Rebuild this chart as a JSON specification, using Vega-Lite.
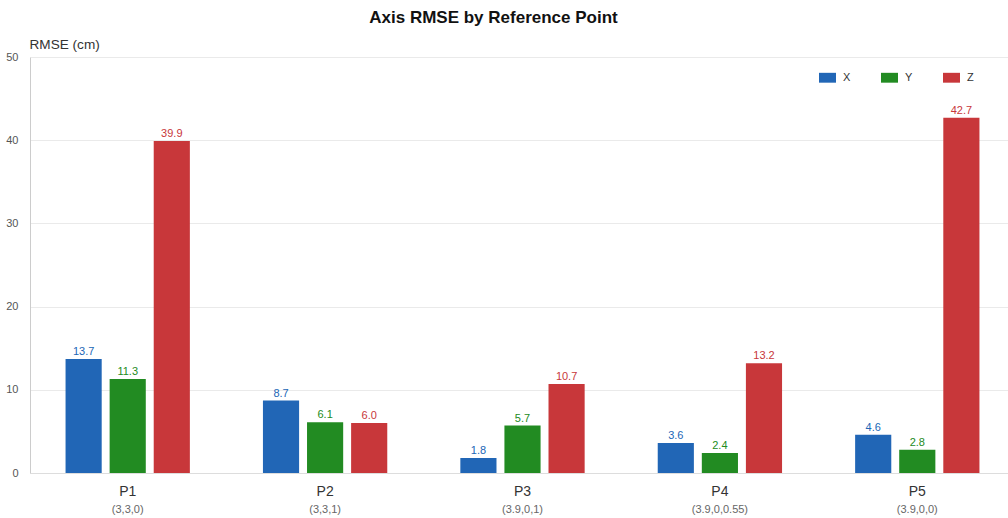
{
  "$schema": "https://vega.github.io/schema/vega-lite/v6.json",
  "width": 985,
  "height": 416,
  "autosize": "none",
  "padding": {"left": 30, "top": 57, "right": 0, "bottom": 45},
  "background": "white",
  "config": {"font": "Liberation Sans", "view": {"stroke": null}},
  "title": {"text": "Axis RMSE by Reference Point", "fontSize": 17, "fontWeight": "bold", "color": "#111", "anchor": "middle", "dx": -29, "offset": 10},
  "data": {"values": [
    {"point": "P1", "axis": "X", "rmse": 13.7},
    {"point": "P1", "axis": "Y", "rmse": 11.3},
    {"point": "P1", "axis": "Z", "rmse": 39.9},
    {"point": "P2", "axis": "X", "rmse": 8.7},
    {"point": "P2", "axis": "Y", "rmse": 6.1},
    {"point": "P2", "axis": "Z", "rmse": 6.0},
    {"point": "P3", "axis": "X", "rmse": 1.8},
    {"point": "P3", "axis": "Y", "rmse": 5.7},
    {"point": "P3", "axis": "Z", "rmse": 10.7},
    {"point": "P4", "axis": "X", "rmse": 3.6},
    {"point": "P4", "axis": "Y", "rmse": 2.4},
    {"point": "P4", "axis": "Z", "rmse": 13.2},
    {"point": "P5", "axis": "X", "rmse": 4.6},
    {"point": "P5", "axis": "Y", "rmse": 2.8},
    {"point": "P5", "axis": "Z", "rmse": 42.7}
  ]},
  "resolve": {"axis": {"x": "independent"}},
  "layer": [
    {
      "mark": {"type": "bar"},
      "encoding": {
        "x": {"field": "point", "type": "nominal", "sort": null,
          "scale": {"paddingInner": 0.33, "paddingOuter": 0.16},
          "axis": {"orient": "bottom", "title": null, "labelFontSize": 14, "labelColor": "#333", "labelPadding": 11, "ticks": false, "domain": true, "domainColor": "#ddd", "labelAngle": 0, "grid": false}},
        "xOffset": {"field": "axis", "type": "nominal", "scale": {"paddingInner": 0.18, "paddingOuter": 0.09}},
        "y": {"field": "rmse", "type": "quantitative", "scale": {"domain": [0, 50], "nice": false},
          "axis": {"values": [0, 10, 20, 30, 40, 50], "grid": true, "gridColor": "#eaeaea", "domain": true, "domainColor": "#ccc", "ticks": false, "labelPadding": 12, "labelFontSize": 11, "labelColor": "#555", "title": "RMSE (cm)", "titleAngle": 0, "titleX": -1, "titleY": -9, "titleAlign": "left", "titleBaseline": "alphabetic", "titleFontSize": 13.6, "titleFontWeight": "normal", "titleColor": "#333"}},
        "color": {"field": "axis", "type": "nominal", "title": null,
          "scale": {"domain": ["X", "Y", "Z"], "range": ["#2166b6", "#228b22", "#c8373a"]},
          "legend": {"orient": "none", "legendX": 789, "legendY": 12, "direction": "horizontal", "symbolType": "M-1,-0.58H1V0.58H-1Z", "symbolSize": 289, "symbolStrokeWidth": 0, "labelFontSize": 11, "labelColor": "#333", "labelOffset": 7, "columnPadding": 30}}
      }
    },
    {
      "mark": {"type": "text", "baseline": "bottom", "dy": -2, "fontSize": 11},
      "encoding": {
        "x": {"field": "point", "type": "nominal", "sort": null, "axis": null},
        "xOffset": {"field": "axis", "type": "nominal"},
        "y": {"field": "rmse", "type": "quantitative"},
        "text": {"field": "rmse", "type": "quantitative", "format": ".1f"},
        "color": {"field": "axis", "type": "nominal", "legend": null}
      }
    },
    {
      "mark": {"type": "rule", "opacity": 0},
      "encoding": {
        "x": {"field": "point", "type": "nominal", "sort": null,
          "axis": {"orient": "bottom", "title": null, "labelExpr": "datum.value == 'P1' ? '(3,3,0)' : datum.value == 'P2' ? '(3,3,1)' : datum.value == 'P3' ? '(3.9,0,1)' : datum.value == 'P4' ? '(3.9,0,0.55)' : '(3.9,0,0)'", "labelFontSize": 11, "labelColor": "#666", "labelPadding": 30, "ticks": false, "domain": false, "labelAngle": 0, "grid": false}}
      }
    }
  ]
}
